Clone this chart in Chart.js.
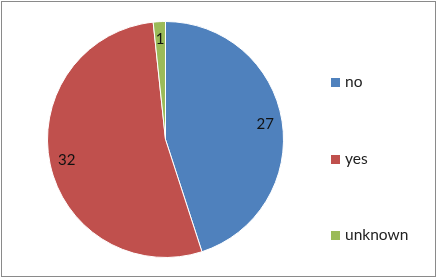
<!DOCTYPE html>
<html><head><meta charset="utf-8">
<script src="https://cdn.jsdelivr.net/npm/chart.js@4/dist/chart.umd.min.js"></script>
<style>html,body{margin:0;padding:0;background:#fff}#w{width:438px;height:279px;position:relative}</style>
</head><body><div id="w"><canvas id="c"></canvas></div>
<script>
const categories = ["no", "yes", "unknown"];
const values = [27, 32, 1];
const colors = ["#4F81BD", "#C0504D", "#9BBB59"];

const FONT = "Lato, 'Open Sans', sans-serif";

const extras = {
  id: 'extras',
  afterDatasetsDraw(chart) {
    const ctx = chart.ctx;
    const meta = chart.getDatasetMeta(0);
    ctx.save();
    ctx.font = "15px " + FONT;
    ctx.fillStyle = "#111";
    ctx.textAlign = "center";
    ctx.textBaseline = "middle";
    meta.data.forEach((arc, i) => {
      const p = arc.getProps(['x','y','startAngle','endAngle','outerRadius'], true);
      const mid = (p.startAngle + p.endAngle) / 2;
      const r = p.outerRadius * 0.855;
      ctx.fillText(String(values[i]), p.x + Math.cos(mid) * r, p.y + Math.sin(mid) * r);
    });
    // legend
    const ys = [82, 159, 235];
    ctx.font = "15.5px " + FONT;
    ctx.textAlign = "left";
    categories.forEach((c, i) => {
      ctx.fillStyle = colors[i];
      ctx.fillRect(331, ys[i] - 4, 9, 9);
      ctx.fillStyle = "#222";
      ctx.fillText(c, 345, ys[i]);
    });
    // frame
    ctx.strokeStyle = "#8a8a8a";
    ctx.lineWidth = 1;
    ctx.strokeRect(1.5, 1.5, 434, 275);
    ctx.restore();
  }
};

new Chart(document.getElementById('c'), {
  type: 'pie',
  data: {
    labels: categories,
    datasets: [{ data: values, backgroundColor: colors, borderColor: "#ffffff", borderWidth: 1 }]
  },
  options: {
    responsive: true,
    maintainAspectRatio: false,
    animation: false,
    layout: { padding: { left: 47, right: 154, top: 21, bottom: 21 } },
    plugins: { legend: { display: false }, tooltip: { enabled: false } }
  },
  plugins: [extras]
});
</script></body></html>
